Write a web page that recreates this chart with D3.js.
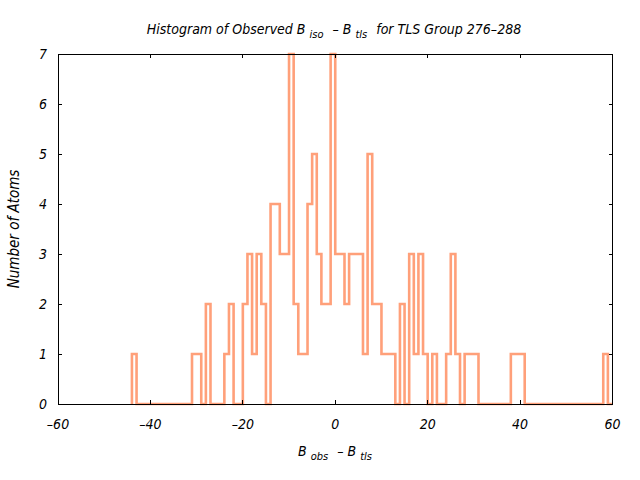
<!DOCTYPE html>
<html>
<head>
<meta charset="utf-8">
<script src="https://cdn.jsdelivr.net/npm/d3@7"></script>
<style>
  body { margin: 0; background: #fff; }
  svg text { font-family: "DejaVu Sans Condensed", "DejaVu Sans", sans-serif; font-style: italic; fill: #000; }
</style>
</head>
<body>
<svg id="chart" width="640" height="480"></svg>
<script>
// ---- data ----
const binStart = -44;       // left edge of first bin
const binWidth = 1;         // bin width
const counts = [
  1, 0, 0, 0, 0, 0, 0, 0, 0, 0, 0, 0, 0,   // -44 .. -32
  1, 1, 0, 2, 0, 0, 0, 1, 2, 0, 0,         // -31 .. -21
  2, 3, 1, 3, 2, 0, 4, 4, 3, 3,            // -20 .. -11
  7, 2, 1, 1, 4, 5, 3, 2, 2, 7,            // -10 .. -1
  3, 3, 2, 3, 3, 3, 1, 5, 2, 2,            // 0 .. 9
  1, 1, 1, 0, 2, 0, 3, 1, 3, 1,            // 10 .. 19
  0, 1, 0, 0, 1, 3, 1, 0, 1, 1,            // 20 .. 29
  1, 0, 0, 0, 0, 0, 0, 0, 1, 1,            // 30 .. 39
  1, 0, 0, 0, 0, 0, 0, 0, 0, 0,            // 40 .. 49
  0, 0, 0, 0, 0, 0, 0, 0, 1, 0             // 50 .. 59
];
const xTicks = [-60, -40, -20, 0, 20, 40, 60];
const yTicks = [0, 1, 2, 3, 4, 5, 6, 7];

// ---- layout ----
const svg = d3.select("#chart");
const L = 58, R = 612.5, T = 54, B = 404;
const x = d3.scaleLinear().domain([-60, 60]).range([L, R]);
const y = d3.scaleLinear().domain([0, 7]).range([B, T]);
const fmt = d => (d < 0 ? "\u2013" + Math.abs(d) : String(d));

// ---- histogram (steps) ----
const pts = [{x: binStart, y: 0}];
counts.forEach((c, i) => pts.push({x: binStart + i * binWidth, y: c}));
pts.push({x: binStart + counts.length * binWidth, y: counts[counts.length - 1]});
const line = d3.line().x(d => x(d.x)).y(d => y(d.y)).curve(d3.curveStepAfter);
svg.append("path").datum(pts)
  .attr("d", line)
  .attr("fill", "none")
  .attr("stroke", "#ffa07a")
  .attr("stroke-width", 2.6)
  .attr("stroke-linejoin", "miter");

// ---- frame and ticks ----
const g = svg.append("g").attr("stroke", "#000").attr("stroke-width", 1).attr("shape-rendering", "crispEdges");
g.append("rect").attr("x", L).attr("y", T).attr("width", R - L).attr("height", B - T).attr("fill", "none");
xTicks.forEach(t => {
  g.append("line").attr("x1", x(t)).attr("x2", x(t)).attr("y1", B).attr("y2", B - 4);
  g.append("line").attr("x1", x(t)).attr("x2", x(t)).attr("y1", T).attr("y2", T + 4);
});
yTicks.forEach(t => {
  g.append("line").attr("x1", L).attr("x2", L + 4).attr("y1", y(t)).attr("y2", y(t));
  g.append("line").attr("x1", R).attr("x2", R - 4).attr("y1", y(t)).attr("y2", y(t));
});

// ---- tick labels ----
svg.append("g").selectAll("text").data(xTicks).join("text")
  .attr("x", d => x(d)).attr("y", 429)
  .attr("text-anchor", "middle").attr("font-size", 14)
  .text(fmt);
svg.append("g").selectAll("text").data(yTicks).join("text")
  .attr("x", 47).attr("y", d => y(d) + 5)
  .attr("text-anchor", "end").attr("font-size", 14)
  .text(fmt);

// ---- titles ----
const title = svg.append("text").attr("x", 334).attr("y", 34).attr("text-anchor", "middle").attr("font-size", 14);
title.append("tspan").text("Histogram of Observed B");
title.append("tspan").attr("dx", 4).attr("dy", 4).attr("font-size", 11).text("iso");
title.append("tspan").attr("dx", 5).attr("dy", -4).text(" \u2013 B");
title.append("tspan").attr("dx", 4).attr("dy", 4).attr("font-size", 11).text("tls");
title.append("tspan").attr("dx", 5).attr("dy", -4).text(" for TLS Group 276\u2013288");

const xl = svg.append("text").attr("x", 335).attr("y", 456).attr("text-anchor", "middle").attr("font-size", 14);
xl.append("tspan").text("B");
xl.append("tspan").attr("dx", 4).attr("dy", 4).attr("font-size", 11).text("obs");
xl.append("tspan").attr("dx", 5).attr("dy", -4).text(" \u2013 B");
xl.append("tspan").attr("dx", 4).attr("dy", 4).attr("font-size", 11).text("tls");

svg.append("text")
  .attr("transform", "translate(19,229) rotate(-90)")
  .attr("text-anchor", "middle").attr("font-size", 15)
  .text("Number of Atoms");
</script>
</body>
</html>
